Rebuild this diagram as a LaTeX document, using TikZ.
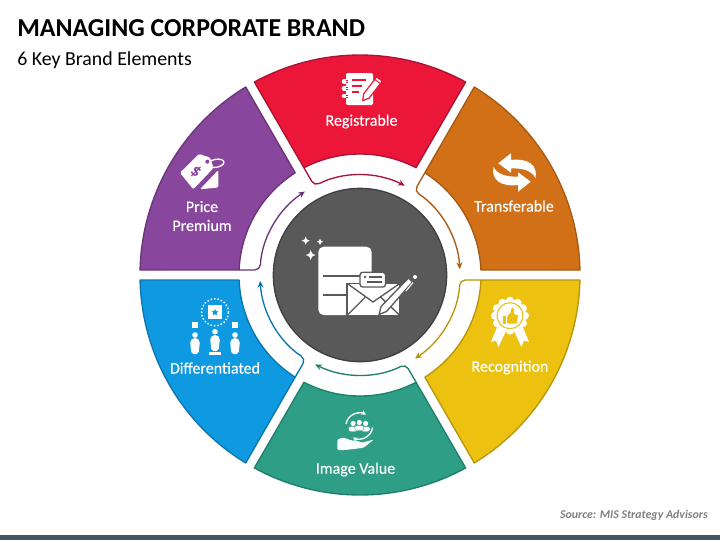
\documentclass[tikz,border=0pt]{standalone}
\usepackage{fontspec}
\setmainfont{Carlito}
\newfontfamily\labelfont[FakeBold=0.3]{Carlito}
\usetikzlibrary{arrows.meta,shapes.geometric}
\definecolor{redfill}{HTML}{EC1639}
\definecolor{redline}{HTML}{A81434}
\definecolor{orangefill}{HTML}{D27018}
\definecolor{orangeline}{HTML}{A65A14}
\definecolor{yellowfill}{HTML}{ECC10F}
\definecolor{yellowline}{HTML}{B8960C}
\definecolor{greenfill}{HTML}{2E9E86}
\definecolor{greenline}{HTML}{1F7F6B}
\definecolor{bluefill}{HTML}{0F99E1}
\definecolor{blueline}{HTML}{0B76AE}
\definecolor{purplefill}{HTML}{88469C}
\definecolor{purpleline}{HTML}{6A3479}
\definecolor{hubfill}{HTML}{595959}
\definecolor{hubline}{HTML}{404040}
\definecolor{barfill}{HTML}{44546A}
\begin{document}
\begin{tikzpicture}[
    x=.75pt, y=-.75pt,
    wedge/.style={line width=1pt, line join=round},
    flow/.style={line width=1pt, rounded corners=4pt, -{Stealth[length=5pt,width=4.5pt]}},
    label/.style={text=white, align=center, font=\labelfont\fontsize{12}{14.2}\selectfont},
    ink/.style={fill=white, draw=none}
  ]
    \useasboundingbox (0,0) rectangle (720,540);
    \fill[barfill] (0,535) rectangle (720,540);
    \node[anchor=west, inner sep=0pt, font=\fontsize{19.4}{22}\selectfont\bfseries] (title) at (17,28) {MANAGING CORPORATE BRAND};
    \node[anchor=west, inner sep=0pt, font=\fontsize{14.9}{16}\selectfont] (subtitle) at (17,60) {6 Key Brand Elements};
    \node[anchor=east, inner sep=0pt, text=black!50, font=\fontsize{8.9}{10}\selectfont\bfseries\itshape] (source) at (708,515) {Source: MIS Strategy Advisors};

    % ring of six segments and their arrows
    \begin{scope}[shift={(360,275)}, y=.75pt]
      \foreach \a/\fc/\lc/\n in {90/redfill/redline/reg, 30/orangefill/orangeline/tra, -30/yellowfill/yellowline/rec, -90/greenfill/greenline/ima, -150/bluefill/blueline/dif, 150/purplefill/purpleline/pri} {
        \draw[wedge, fill=\fc, draw=\lc] ({\a+28.7}:220) arc[start angle=\a+28.7, end angle=\a-28.7, radius=220]
          -- ({\a-27.6}:121) arc[start angle=\a-27.6, end angle=\a+27.6, radius=121] -- cycle;
        \coordinate (\n start) at ({\a+27.6}:121);
        \coordinate (\n knee) at ({\a+27.1}:100);
        \coordinate (\n tip) at ({\a-26.6}:100);
        \draw[flow, draw=\lc] (\n start) -- (\n knee) to[out=\a+27.1-90, in=\a-26.6+90, looseness=.9] (\n tip);
      }
    \end{scope}
    \node[circle, fill=hubfill, draw=hubline, line width=1pt, minimum size=130pt, inner sep=0pt] (hub) at (360,275) {};

    \node[label] (reg) at (361.5,121.5) {Registrable};
    \node[label] (tra) at (514,206) {Transferable};
    \node[label] (rec) at (510,367.5) {Recognition};
    \node[label] (ima) at (355.5,469.5) {Image Value};
    \node[label] (dif) at (215,368) {Differentiated};
    \node[label] (pri) at (202,216) {Price\\Premium};

    % registrable icon
    \fill[ink, rounded corners=1pt] (346,73) rectangle (373,105);
    \foreach \y in {81.5,88.5,96} \draw[white, line width=1.4pt, line cap=round, double=white] (344,\y) -- (347,\y);
    \foreach \y in {81.5,88.5,96} \draw[redfill, line width=.4pt] (346,\y-1) -- (348,\y-1) (346,\y+1) -- (348,\y+1);
    \draw[redfill, line width=1.2pt] (352,80) -- (366,80) (352,86) -- (362,86) (352,92) -- (359,92);
    \draw[ink, draw=redfill, line width=.9pt, line join=round] (362.7,100.7) -- (363.6,93.9) -- (376.7,76.9) -- (382.3,81.1) -- (369.2,98.1) -- cycle;
    \draw[redfill, line width=.7pt] (374.8,79.5) -- (380.4,83.6);

    % transferable icon
    \fill[ink] (498.3,163.3) -- (511,153.3) -- (511,160) .. controls (528,158) and (538,165) .. (535.5,178)
      .. controls (531,170) and (522,168) .. (511,168.5) -- (511,172.7) -- cycle;
    \fill[ink] (530.7,181.7) -- (518,191.7) -- (518,185) .. controls (501,187) and (491,180) .. (493.5,167)
      .. controls (498,175) and (507,177) .. (518,176.5) -- (518,172.3) -- cycle;

    % recognition icon
    \fill[ink] (498,325) -- (491,342) -- (496,340.5) -- (498.5,347) -- (506,331) -- cycle;
    \fill[ink] (522,325) -- (529,342) -- (524,340.5) -- (521.5,347) -- (514,331) -- cycle;
    \foreach \t in {0,30,...,330} \fill[ink] (510,315.7) ++(\t:15) circle[radius=4];
    \fill[ink] (510,315.7) circle[radius=16];
    \draw[yellowfill, line width=.8pt] (510,315.7) circle[radius=13];
    \fill[yellowfill] (503,316) rectangle (506.3,323.5);
    \fill[yellowfill, rounded corners=.7pt] (507.2,316.5) -- (511,312) -- (511.5,307.5) -- (514,308) -- (514,314.5) -- (518,314.5) -- (517,323.5) -- (507.2,323.5) -- cycle;

    % image value icon
    \draw[white, line width=1pt, -{Stealth[length=3.5pt,width=3.5pt]}] (346,424) arc[start angle=190, end angle=300, radius=13.5];
    \draw[white, line width=1pt, -{Stealth[length=3.5pt,width=3.5pt]}] (372.6,427.5) arc[start angle=8, end angle=118, radius=13.5];
    \foreach \x/\y in {353/423.5,365.6/423.5,359.3/422.5} {
      \fill[ink] (\x,\y) circle[radius=2.6];
      \draw[ink, draw=greenfill, line width=.3pt, rounded corners=1.5pt] (\x-4.5,\y+8) -- (\x-4.5,\y+3) -- (\x+4.5,\y+3) -- (\x+4.5,\y+8) -- cycle;
    }
    \fill[ink, rounded corners=1pt] (337.3,439.5) -- (343,437.5) -- (351.7,440.5) -- (358.3,441) -- (361.7,442.8) -- (373.8,439.5) -- (363.5,447.8) -- (345,450) -- (337.3,450) -- cycle;

    % differentiated icon
    \draw[white, line width=1.1pt, dash pattern=on 1.1pt off 1.5pt] (215,312.3) circle[radius=13.5];
    \fill[ink] (208,305.3) rectangle (222,319.3);
    \node[star, star points=5, star point ratio=2.2, fill=bluefill, inner sep=0pt, minimum size=5.5pt] (difstar) at (215,312.5) {};
    \fill[ink] (192,322) rectangle (198,328);
    \fill[ink] (232,322) rectangle (238,328);
    \foreach \x/\y in {195/335,235/335} {
      \fill[ink] (\x,\y) circle[radius=2.8];
      \fill[ink, rounded corners=1.5pt] (\x-3.5,\y+19) -- (\x-5,\y+6) -- (\x-2,\y+3) -- (\x+2,\y+3) -- (\x+5,\y+6) -- (\x+3.5,\y+19) -- cycle;
    }
    \fill[ink] (215,331.7) circle[radius=2.8];
    \fill[ink, rounded corners=1.5pt] (211.5,351) -- (210,338) -- (213,335) -- (217,335) -- (220,338) -- (218.5,351) -- cycle;
    \fill[ink] (209,352) rectangle (221,354.5);

    % price icon
    \draw[white, line width=1pt, rotate around={10:(216,163.3)}] (216,163.3) ellipse[x radius=8, y radius=4];
    \fill[ink, rounded corners=1pt] (180,172.7) -- (199,154) -- (210,157.5) -- (213.5,168) -- (193.3,189.3) -- cycle;
    \fill[ink, rounded corners=1pt] (200,189.3) -- (218.3,170) -- (218.3,187.5) -- cycle;
    \fill[purplefill] (207.3,161.7) circle[radius=2];
    \node[text=purplefill, inner sep=0pt, rotate=-40, font=\fontsize{13}{14}\selectfont\bfseries] (dollar) at (196,172) {\$};

    % centre icon
    \foreach \x/\y/\r in {305.7/240.7/4, 320/241.7/3.2, 310.7/255/5} {
      \fill[ink] (\x-\r,\y) .. controls (\x-.25*\r,\y-.25*\r) .. (\x,\y-\r) .. controls (\x+.25*\r,\y-.25*\r) .. (\x+\r,\y)
        .. controls (\x+.25*\r,\y+.25*\r) .. (\x,\y+\r) .. controls (\x-.25*\r,\y+.25*\r) .. cycle;
    }
    \fill[ink, rounded corners=4pt] (318.3,246.7) rectangle (371.7,315);
    \draw[hubfill, line width=.9pt] (322.7,276) -- (360,276) (322.7,295) -- (347,295);
    \draw[ink, draw=hubfill, line width=1pt, line join=round] (347,283.3) rectangle (400,315.5);
    \draw[hubfill, line width=1pt] (347,283.3) -- (373,302) -- (400,283.3) (347,315.5) -- (365,297.5) (400,315.5) -- (381,297.5);
    \draw[ink, draw=hubfill, line width=1pt, rounded corners=2pt] (360,272.3) rectangle (385.5,287);
    \fill[hubfill] (365,277) circle[radius=1.3];
    \draw[hubfill, line width=.8pt] (369,277) -- (382,277) (367,282) -- (382,282);
    \draw[ink, draw=hubfill, line width=1pt, line join=round] (379,314.5) -- (381,306.5) -- (408.5,278) -- (412.5,282) -- (386.5,311.5) -- cycle;
    \fill[ink] (415,277) circle[radius=2];
    \draw[white, line width=.8pt] (413,282.5) -- (406,291);
\end{tikzpicture}
\end{document}
